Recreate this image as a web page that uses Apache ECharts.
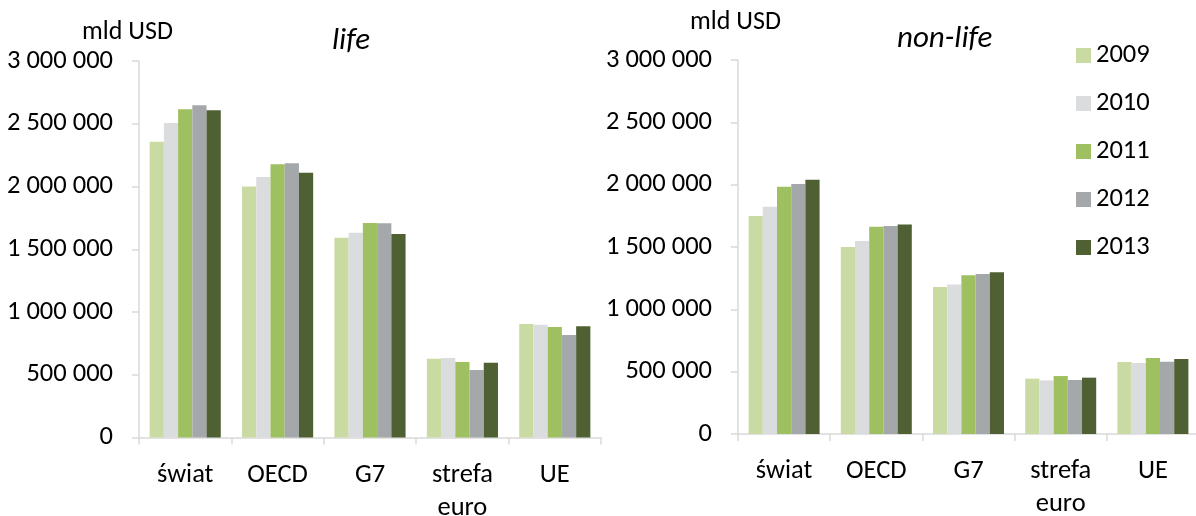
<!DOCTYPE html>
<html>
<head>
<meta charset="utf-8">
<script src="https://cdn.jsdelivr.net/npm/echarts@6/dist/echarts.min.js"></script>
<style>
html,body{margin:0;padding:0;background:#fff;}
#c{width:1196px;height:516px;}
</style>
</head>
<body>
<div id="c"></div>
<script>
const categories = ['świat', 'OECD', 'G7', 'strefa\neuro', 'UE'];
const years = ['2009', '2010', '2011', '2012', '2013'];
const yTicks = [0, 500000, 1000000, 1500000, 2000000, 2500000, 3000000];

const life2009 = [2357000, 2000000, 1592000, 628000, 904000];
const life2010 = [2506000, 2076000, 1632000, 633000, 899000];
const life2011 = [2615000, 2177000, 1709000, 602000, 880000];
const life2012 = [2647000, 2185000, 1707000, 538000, 817000];
const life2013 = [2607000, 2110000, 1621000, 596000, 886000];

const nonlife2009 = [1748000, 1500000, 1179000, 444000, 577000];
const nonlife2010 = [1823000, 1548000, 1200000, 430000, 569000];
const nonlife2011 = [1983000, 1663000, 1273000, 465000, 609000];
const nonlife2012 = [2005000, 1668000, 1283000, 433000, 580000];
const nonlife2013 = [2040000, 1681000, 1297000, 452000, 601000];

const colors = ['#c9dba2', '#dbdcde', '#9fc060', '#a5a8ab', '#4f6133'];
const FONT = "Carlito, 'Open Sans', sans-serif";

const lifeSeries = [life2009, life2010, life2011, life2012, life2013];
const nonlifeSeries = [nonlife2009, nonlife2010, nonlife2011, nonlife2012, nonlife2013];

function fmt(v) { return String(v).replace(/\B(?=(\d{3})+(?!\d))/g, ' '); }

function xAxis(gi) {
  return {
    type: 'category', gridIndex: gi, data: categories,
    axisLine: { show: true, lineStyle: { color: '#d9d9d9', width: 1.5 } },
    axisTick: { show: true, length: 7, lineStyle: { color: '#d9d9d9', width: 1.5 } },
    axisLabel: { color: '#000', fontSize: 26.5, fontFamily: FONT, lineHeight: 33, margin: 21, interval: 0 }
  };
}
function yAxis(gi) {
  return {
    type: 'value', gridIndex: gi, min: yTicks[0], max: yTicks[yTicks.length - 1], interval: yTicks[1] - yTicks[0],
    splitLine: { show: false },
    axisLine: { show: true, lineStyle: { color: '#d9d9d9', width: 1.5 } },
    axisTick: { show: true, length: 7, lineStyle: { color: '#d9d9d9', width: 1.5 } },
    axisLabel: { color: '#000', fontSize: 26.5, fontFamily: FONT, margin: 26, formatter: fmt }
  };
}

const series = [];
years.forEach((y, i) => {
  series.push({ name: y, type: 'bar', xAxisIndex: 0, yAxisIndex: 0, data: lifeSeries[i],
    itemStyle: { color: colors[i] }, barGap: '0%', barCategoryGap: '23%' });
});
years.forEach((y, i) => {
  series.push({ name: y, type: 'bar', xAxisIndex: 1, yAxisIndex: 1, data: nonlifeSeries[i],
    itemStyle: { color: colors[i] }, barGap: '0%', barCategoryGap: '23%' });
});

const chart = echarts.init(document.getElementById('c'), null, { renderer: 'canvas' });
chart.setOption({
  animation: false,
  backgroundColor: '#fff',
  color: colors,
  title: [
    { text: 'mld USD', left: 82, top: 19, padding: 0, textStyle: { fontSize: 26, lineHeight: 26, fontWeight: 'normal', color: '#000', fontFamily: FONT } },
    { text: 'mld USD', left: 690, top: 9, padding: 0, textStyle: { fontSize: 26, lineHeight: 26, fontWeight: 'normal', color: '#000', fontFamily: FONT } },
    { text: 'life', left: 332, top: 26, padding: 0, textStyle: { fontSize: 31, lineHeight: 31, fontStyle: 'italic', fontWeight: 'normal', color: '#000', fontFamily: FONT } },
    { text: 'non-life', left: 897, top: 24, padding: 0, textStyle: { fontSize: 31, lineHeight: 31, fontStyle: 'italic', fontWeight: 'normal', color: '#000', fontFamily: FONT } }
  ],
  legend: {
    data: years, orient: 'vertical', left: 1076, top: 42, padding: 0,
    itemWidth: 15, itemHeight: 15, itemGap: 21, icon: 'rect',
    textStyle: { fontSize: 26.5, lineHeight: 20, color: '#000', fontFamily: FONT }
  },
  grid: [
    { left: 139, top: 61, width: 462, height: 376.5, outerBoundsMode: 'none', containLabel: false },
    { left: 738, top: 60, width: 461, height: 374, outerBoundsMode: 'none', containLabel: false }
  ],
  xAxis: [xAxis(0), xAxis(1)],
  yAxis: [yAxis(0), yAxis(1)],
  series: series
});
</script>
</body>
</html>
